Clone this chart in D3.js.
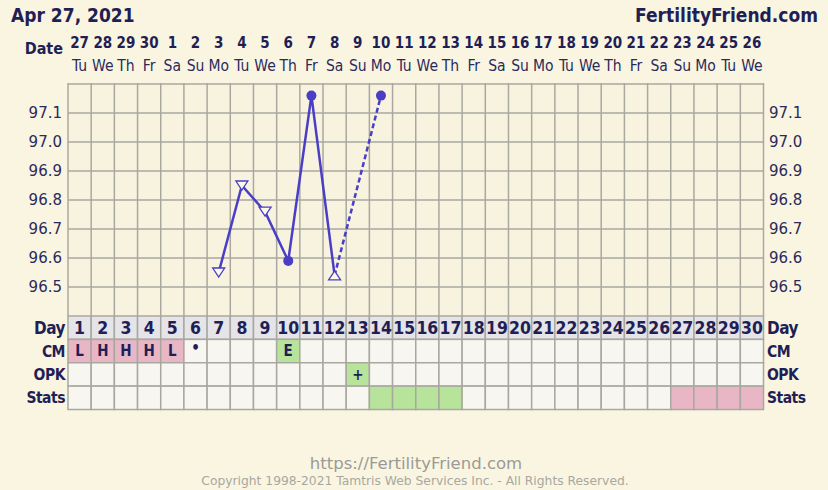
<!DOCTYPE html>
<html>
<head>
<meta charset="utf-8">
<script src="https://cdn.jsdelivr.net/npm/d3@7"></script>
<style>
  body { margin: 0; background: #faf5e1; }
  svg { display: block; }
  .bold { font-family: "DejaVu Sans Condensed", "DejaVu Sans", sans-serif; font-weight: bold; fill: #1f1f55; }
  .reg { font-family: "DejaVu Sans", Verdana, sans-serif; fill: #2a2a5c; }
</style>
</head>
<body>
<div id="chart"></div>
<script>
var width = 828, height = 490;

// chart data
var days = d3.range(1, 31);
var dates = ["27","28","29","30","1","2","3","4","5","6","7","8","9","10","11","12","13","14","15","16","17","18","19","20","21","22","23","24","25","26"];
var weekdays = ["Tu","We","Th","Fr","Sa","Su","Mo","Tu","We","Th","Fr","Sa","Su","Mo","Tu","We","Th","Fr","Sa","Su","Mo","Tu","We","Th","Fr","Sa","Su","Mo","Tu","We"];
var temps = [null,null,null,null,null,null,96.55,96.85,96.76,96.59,97.16,96.54,null,97.16];
var markers = [null,null,null,null,null,null,"down","down","down","dot","dot","up",null,"dot"];
var tempTicks = [96.5, 96.6, 96.7, 96.8, 96.9, 97.0, 97.1];
var cm = ["L","H","H","H","L","\u2022","","","","E"];
var cmFill = ["pink","pink","pink","pink","pink","","","","","green"];
var opk = {13: "+"};
var statsFill = {14:"green",15:"green",16:"green",17:"green",27:"pink",28:"pink",29:"pink",30:"pink"};
var rowLabels = ["Day","CM","OPK","Stats"];

var colors = {pink: "#e9b6c6", green: "#b8e39a", cell: "#f7f6f1", dayRow: "#e5e4e8", grid: "#a9a8a0", plot: "#f8f3df", line: "#4a3ec6"};

var svg = d3.select("#chart").append("svg")
  .attr("width", width)
  .attr("height", height);

svg.append("rect").attr("width", width).attr("height", height).attr("fill", "#faf5e1");

var x = d3.scaleBand().domain(days).range([68, 763.5]);
var y = d3.scaleLinear().domain([96.4, 97.2]).range([316, 84]);
var rowY = d3.scaleBand().domain(rowLabels).range([316, 409.5]);

// header
svg.append("text").attr("class", "bold").attr("x", 11).attr("y", 22)
  .style("font-size", "19px").text("Apr 27, 2021");
svg.append("text").attr("class", "bold").attr("x", 818).attr("y", 22).attr("text-anchor", "end")
  .style("font-size", "19px").text("FertilityFriend.com");

svg.append("text").attr("class", "bold").attr("x", 63).attr("y", 54).attr("text-anchor", "end")
  .style("font-size", "16px").text("Date");
svg.selectAll(".dt").data(days).enter().append("text")
  .attr("class", "bold")
  .attr("x", function(d) { return x(d) + x.bandwidth() / 2; })
  .attr("y", 48)
  .attr("text-anchor", "middle")
  .style("font-size", "15px")
  .text(function(d, i) { return dates[i]; });
svg.selectAll(".wd").data(days).enter().append("text")
  .attr("class", "reg")
  .attr("x", function(d) { return x(d) + x.bandwidth() / 2; })
  .attr("y", 71)
  .attr("text-anchor", "middle")
  .style("font-family", "'DejaVu Sans Condensed', 'DejaVu Sans', sans-serif")
  .style("font-size", "15.5px")
  .text(function(d, i) { return weekdays[i]; });

// plot area
svg.append("rect").attr("x", 68).attr("y", 83).attr("width", 695.5).attr("height", 233).attr("fill", colors.plot);

var g = svg.append("g");
g.selectAll(".hl").data(tempTicks.concat([97.2])).enter().append("line")
  .attr("x1", 68).attr("x2", 763.5)
  .attr("y1", function(d) { return y(d); }).attr("y2", function(d) { return y(d); })
  .attr("stroke", colors.grid).attr("stroke-width", 1.5);
g.selectAll(".vl").data(days.concat([31])).enter().append("line")
  .attr("x1", function(d) { return d == 31 ? 763.5 : x(d); })
  .attr("x2", function(d) { return d == 31 ? 763.5 : x(d); })
  .attr("y1", 83).attr("y2", 316)
  .attr("stroke", colors.grid).attr("stroke-width", 1.5);

// temperature labels both sides
svg.selectAll(".yl").data(tempTicks).enter().append("text")
  .attr("class", "reg").attr("x", 62).attr("y", function(d) { return y(d); })
  .attr("dy", "0.35em").attr("text-anchor", "end").style("font-size", "15px")
  .text(function(d) { return d.toFixed(1); });
svg.selectAll(".yr").data(tempTicks).enter().append("text")
  .attr("class", "reg").attr("x", 769).attr("y", function(d) { return y(d); })
  .attr("dy", "0.35em").style("font-size", "15px")
  .text(function(d) { return d.toFixed(1); });

// rows of cells
var cellData = [];
rowLabels.forEach(function(r) {
  days.forEach(function(d, i) {
    var fill = colors.cell, txt = "";
    if (r == "Day") { fill = colors.dayRow; txt = String(d); }
    if (r == "CM") { if (cmFill[i]) fill = colors[cmFill[i]]; txt = cm[i] || ""; }
    if (r == "OPK" && opk[d]) { fill = colors.green; txt = opk[d]; }
    if (r == "Stats" && statsFill[d]) fill = colors[statsFill[d]];
    cellData.push({row: r, day: d, fill: fill, txt: txt});
  });
});
svg.selectAll(".cell").data(cellData).enter().append("rect")
  .attr("x", function(d) { return x(d.day); })
  .attr("y", function(d) { return rowY(d.row); })
  .attr("width", x.bandwidth()).attr("height", rowY.bandwidth())
  .attr("fill", function(d) { return d.fill; })
  .attr("stroke", colors.grid).attr("stroke-width", 1.5);
svg.selectAll(".ctxt").data(cellData.filter(function(d) { return d.txt; })).enter().append("text")
  .attr("class", "bold")
  .attr("x", function(d) { return x(d.day) + x.bandwidth() / 2; })
  .attr("y", function(d) { return rowY(d.row) + rowY.bandwidth() / 2 + (d.txt == "\u2022" ? -3 : 0); })
  .attr("dy", "0.36em").attr("text-anchor", "middle")
  .style("font-size", function(d) { return d.row == "Day" ? "17.5px" : "15px"; })
  .text(function(d) { return d.txt; });

svg.selectAll(".rl").data(rowLabels).enter().append("text")
  .attr("class", "bold").attr("x", 65).attr("y", function(d) { return rowY(d) + rowY.bandwidth() / 2; })
  .attr("dy", "0.36em").attr("text-anchor", "end")
  .style("font-size", function(d) { return d == "Day" ? "17px" : "15.5px"; })
  .style("letter-spacing", "-0.5px")
  .text(function(d) { return d; });
svg.selectAll(".rr").data(rowLabels).enter().append("text")
  .attr("class", "bold").attr("x", 767).attr("y", function(d) { return rowY(d) + rowY.bandwidth() / 2; })
  .attr("dy", "0.36em")
  .style("font-size", function(d) { return d == "Day" ? "17px" : "15.5px"; })
  .style("letter-spacing", "-0.5px")
  .text(function(d) { return d; });

// temperature line
var pts = temps.map(function(t, i) { return {day: i + 1, t: t, m: markers[i]}; });
var cx = function(d) { return x(d.day) + x.bandwidth() / 2; };
var line = d3.line().defined(function(d) { return d.t != null; })
  .x(cx).y(function(d) { return y(d.t); });
svg.append("path").datum(pts).attr("d", line)
  .attr("fill", "none").attr("stroke", colors.line).attr("stroke-width", 2.5);

// dashed bridge across missing days
var valid = pts.filter(function(d) { return d.t != null; });
var gaps = [];
for (var i = 1; i < valid.length; i++) {
  if (valid[i].day - valid[i - 1].day > 1) gaps.push([valid[i - 1], valid[i]]);
}
svg.selectAll(".gap").data(gaps).enter().append("path")
  .attr("d", d3.line().x(cx).y(function(d) { return y(d.t); }))
  .attr("fill", "none").attr("stroke", colors.line).attr("stroke-width", 2.5)
  .attr("stroke-dasharray", "5,3");

svg.selectAll(".dot").data(valid.filter(function(d) { return d.m == "dot"; })).enter().append("circle")
  .attr("cx", cx).attr("cy", function(d) { return y(d.t); }).attr("r", 5)
  .attr("fill", colors.line);
svg.selectAll(".tri").data(valid.filter(function(d) { return d.m == "down" || d.m == "up"; })).enter().append("path")
  .attr("transform", function(d) { return "translate(" + cx(d) + "," + y(d.t) + ")"; })
  .attr("d", function(d) { return d.m == "down" ? "M-6,-4.5L6,-4.5L0,4.5Z" : "M-6,4.5L6,4.5L0,-4.5Z"; })
  .attr("fill", "#fbf8ec").attr("stroke", colors.line).attr("stroke-width", 1.3);

// footer
svg.append("text").attr("class", "reg").attr("x", 416).attr("y", 469).attr("text-anchor", "middle")
  .style("font-size", "16.5px").style("fill", "#9a9a96").text("https://FertilityFriend.com");
svg.append("text").attr("class", "reg").attr("x", 415).attr("y", 485).attr("text-anchor", "middle")
  .style("font-size", "12.3px").style("fill", "#a8a8a2").text("Copyright 1998-2021 Tamtris Web Services Inc. - All Rights Reserved.");
</script>
</body>
</html>
